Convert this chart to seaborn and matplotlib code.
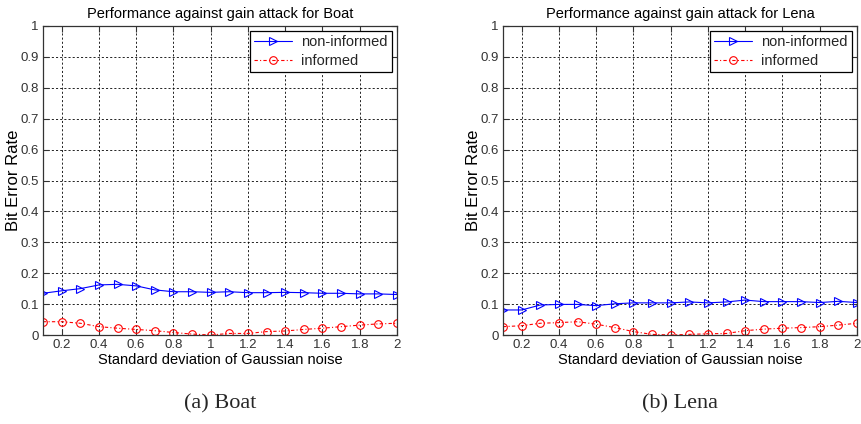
import numpy as np
import pandas as pd
import matplotlib
matplotlib.use("Agg")
import matplotlib.pyplot as plt
import seaborn as sns

# ---- data ----
noise_std = [0.1, 0.2, 0.3, 0.4, 0.5, 0.6, 0.7, 0.8, 0.9, 1.0,
             1.1, 1.2, 1.3, 1.4, 1.5, 1.6, 1.7, 1.8, 1.9, 2.0]
boat_noninformed = [0.135, 0.143, 0.150, 0.162, 0.164, 0.159, 0.146, 0.140, 0.140, 0.138,
                    0.140, 0.137, 0.137, 0.138, 0.137, 0.135, 0.135, 0.133, 0.133, 0.131]
boat_informed = [0.043, 0.043, 0.038, 0.027, 0.022, 0.018, 0.014, 0.008, 0.003, 0.0,
                 0.005, 0.005, 0.011, 0.013, 0.018, 0.022, 0.027, 0.032, 0.036, 0.038]
lena_noninformed = [0.081, 0.081, 0.097, 0.099, 0.099, 0.095, 0.101, 0.104, 0.104, 0.104,
                    0.107, 0.104, 0.107, 0.113, 0.108, 0.108, 0.108, 0.105, 0.109, 0.105]
lena_informed = [0.027, 0.030, 0.038, 0.040, 0.043, 0.035, 0.024, 0.011, 0.002, 0.0,
                 0.002, 0.004, 0.005, 0.014, 0.019, 0.022, 0.024, 0.027, 0.032, 0.038]
series_labels = ["non-informed", "informed"]
titles = ["Performance against gain attack for Boat", "Performance against gain attack for Lena"]
captions = ["(a) Boat", "(b) Lena"]
xlabel = "Standard deviation of Gaussian noise"
ylabel = "Bit Error Rate"
xticks = [0.2, 0.4, 0.6, 0.8, 1.0, 1.2, 1.4, 1.6, 1.8, 2.0]
yticks = [0, 0.1, 0.2, 0.3, 0.4, 0.5, 0.6, 0.7, 0.8, 0.9, 1.0]

sns.set_theme(style="white")
plt.rcParams['font.family'] = ['Liberation Sans', 'DejaVu Sans']

fig = plt.figure(figsize=(8.61, 4.24), dpi=100)
ax_pos = [[43 / 861, 89 / 424, 354 / 861, 309 / 424],
          [503 / 861, 89 / 424, 354 / 861, 309 / 424]]

datasets = [(boat_noninformed, boat_informed), (lena_noninformed, lena_informed)]
for i, (noninf, inf) in enumerate(datasets):
    ax = fig.add_axes(ax_pos[i])
    df = pd.DataFrame({"x": noise_std, "non": noninf, "inf": inf})
    sns.lineplot(data=df, x="x", y="non", ax=ax, color="#0000ff", marker=">",
                 markersize=6, markerfacecolor="none", markeredgecolor="#0000ff",
                 markeredgewidth=0.8, linewidth=0.8, label=series_labels[0],
                 sort=False, errorbar=None)
    sns.lineplot(data=df, x="x", y="inf", ax=ax, color="#ff0000", marker="o",
                 markersize=5.5, markerfacecolor="none", markeredgecolor="#ff0000",
                 markeredgewidth=0.8, linewidth=0.8, linestyle=(0, (3, 2, 1, 2)),
                 label=series_labels[1], sort=False, errorbar=None)
    ax.set_xlim(0.1, 2.0)
    ax.set_ylim(0, 1)
    ax.set_xticks(xticks)
    ax.set_xticklabels([f"{t:g}" for t in xticks])
    ax.set_yticks(yticks)
    ax.set_yticklabels([f"{t:g}" for t in yticks])
    ax.grid(True, color="black", linestyle=(0, (2.5, 2.5)), linewidth=0.6)
    for s in ax.spines.values():
        s.set_color("#333333")
        s.set_linewidth(0.9)
        s.set_visible(True)
    ax.tick_params(direction="in", length=4, width=0.8, colors="#333333",
                   labelsize=9.5, top=True, right=True, bottom=True, left=True, pad=3)
    ax.set_title(titles[i], fontsize=10.5, pad=6, color="black")
    ax.set_xlabel(xlabel, fontsize=10.5, labelpad=1, color="black")
    ax.set_ylabel(ylabel, fontsize=12, color="black")
    ax.yaxis.set_label_coords(-22 / 354, 0.5)
    leg = ax.legend(loc="upper right", fontsize=10.5, frameon=True, fancybox=False,
                    edgecolor="black", framealpha=1, borderpad=0.3, labelspacing=0.3,
                    handlelength=2.6, handletextpad=0.6, borderaxespad=0.35)
    leg.get_frame().set_linewidth(0.9)
    fig.text((ax_pos[i][0] + ax_pos[i][2] / 2), 20 / 424, captions[i],
             ha="center", va="center", fontsize=16, family="Liberation Serif")

fig.savefig("out.png", dpi=100)
